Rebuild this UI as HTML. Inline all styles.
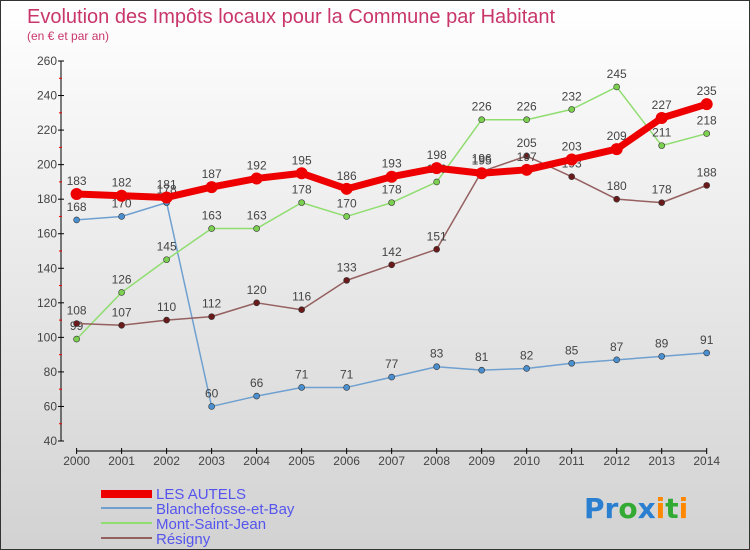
<!DOCTYPE html>
<html><head><meta charset="utf-8"><style>
body{margin:0}
#c{width:748px;height:548px;border:1px solid #333;background:linear-gradient(#fff,#d2d2d2);position:relative;font-family:"Liberation Sans",sans-serif;overflow:hidden}
</style></head><body>
<div id="c">
<svg id="s" width="748" height="548" style="position:absolute;left:0;top:0">
<text x="26" y="22" font-size="20" fill="#c8366a">Evolution des Impôts locaux pour la Commune par Habitant</text>
<text x="26" y="39" font-size="12" fill="#c8366a">(en € et par an)</text>
<g id="axes"></g><g id="series"></g>
<g font-size="15" fill="#5555ee">
<rect x="100" y="489" width="51" height="8" fill="#e00"/>
<text x="155" y="498">LES AUTELS</text>
<line x1="100" y1="507" x2="151" y2="507" stroke="#6fa0d0" stroke-width="2"/>
<text x="155" y="513">Blanchefosse-et-Bay</text>
<line x1="100" y1="522" x2="151" y2="522" stroke="#90dd70" stroke-width="2"/>
<text x="155" y="528">Mont-Saint-Jean</text>
<line x1="100" y1="537" x2="151" y2="537" stroke="#956060" stroke-width="2"/>
<text x="155" y="543">Résigny</text>
</g>
<text x="583" y="517" font-size="28" font-family="DejaVu Sans" font-weight="bold"><tspan fill="#2a7fd0">Pr</tspan><tspan fill="#3a3">o</tspan><tspan fill="#2a7fd0">x</tspan><tspan fill="#f80">i</tspan><tspan fill="#3a3">t</tspan><tspan fill="#f80">i</tspan></text>
</svg></div>
<script>
const years=[2000,2001,2002,2003,2004,2005,2006,2007,2008,2009,2010,2011,2012,2013,2014];
const yTicks=[40,60,80,100,120,140,160,180,200,220,240,260];
const lesAutels=[183,182,181,187,192,195,186,193,198,195,197,203,209,227,235];
const blanchefosse=[168,170,178,60,66,71,71,77,83,81,82,85,87,89,91];
const montSaintJean=[99,126,145,163,163,178,170,178,190,226,226,232,245,211,218];
const resigny=[108,107,110,112,120,116,133,142,151,196,205,193,180,178,188];
const NS="http://www.w3.org/2000/svg";
const xS=i=>75.6+i*(705.7-75.6)/(years.length-1);
const yS=v=>440-(v-40)*380/220;
function mk(t,a,p){const e=document.createElementNS(NS,t);for(const k in a)e.setAttribute(k,a[k]);p.appendChild(e);return e;}
const ax=document.getElementById('axes');
let l=mk('line',{x1:60,y1:yS(260),x2:60,y2:yS(40),stroke:'#000','stroke-width':1},ax);

yTicks.forEach((v,i)=>{const y=yS(v);
 mk('line',{x1:57,y1:y,x2:63,y2:y,stroke:'#000'},ax);
 if(i<yTicks.length-1)mk('line',{x1:58,y1:yS(v+10),x2:61,y2:yS(v+10),stroke:'#e00'},ax);
 const t=mk('text',{x:56,y:y+4,'text-anchor':'end','font-size':12,fill:'#444'},ax);t.textContent=v;
 });
l=mk('line',{x1:75.6,y1:450,x2:705.7,y2:450,stroke:'#000'},ax);

years.forEach((yr,i)=>{const x=xS(i);mk('line',{x1:x,y1:447,x2:x,y2:453,stroke:'#000'},ax);
 const t=mk('text',{x:x,y:464,'text-anchor':'middle','font-size':12,fill:'#444'},ax);t.textContent=yr;
 });
const sg=document.getElementById('series');
function draw(vals,name,col,dot,w,r){
 const g=mk('g',{},sg);
 mk('polyline',{points:vals.map((v,i)=>xS(i)+','+yS(v)).join(' '),fill:'none',stroke:col,'stroke-width':w,'stroke-linejoin':'round'},g);
 vals.forEach((v,i)=>{const c=mk('circle',{cx:xS(i),cy:yS(v),r:r,fill:dot,stroke:'#333','stroke-width':r>5?0:0.6},g);
  
  const t=mk('text',{x:xS(i),y:yS(v)-9,'text-anchor':'middle','font-size':12,fill:'#444'},g);t.textContent=v;
  });
}
draw(blanchefosse,'blanchefosse','#6fa0d0','#4a90d0',1.5,3);
draw(montSaintJean,'mont-saint-jean','#90dd70','#7cd050',1.5,3);
draw(resigny,'resigny','#956060','#6a1a1a',1.5,3);
draw(lesAutels,'les-autels','#e00','#e00',7,6);
</script>
</body></html>
